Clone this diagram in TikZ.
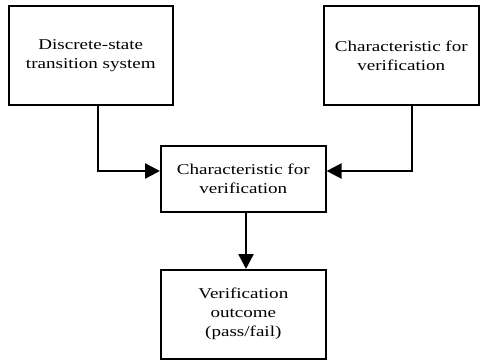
\documentclass[tikz,border=0pt]{standalone}
\usepackage{fontspec}
\setmainfont[FakeStretch=1.27]{Liberation Serif}
\usetikzlibrary{arrows.meta}
\begin{document}
\begin{tikzpicture}[x=1pt,y=-1pt,
  box/.style={draw, line width=1.6pt, align=center, inner sep=0pt,
    font=\fontsize{15}{19}\selectfont},
  flow/.style={line width=2.4pt, -{Triangle[length=15pt,width=15pt]}}]
\useasboundingbox (0,0) rectangle (484,360);
% boxes, placed by their corners
\node[box, minimum width=164pt, minimum height=99pt, anchor=north west] (sys) at (8,5) {Discrete-state\\transition system};
\node[box, minimum width=155pt, minimum height=99pt, anchor=north west] (spec) at (323,5) {Characteristic for\\verification};
\node[box, minimum width=165pt, minimum height=66pt, anchor=north west] (check) at (160,145) {Characteristic for\\verification};
\node[box, minimum width=165pt, minimum height=89pt, anchor=north west] (out) at (160,269) {Verification\\outcome\\(pass/fail)};
% connectors
\coordinate (lc) at (98,171);
\coordinate (rc) at (412,171);
\coordinate (dc) at (246,0);
\draw[flow] (sys.south west -| lc) -- (lc) -- (check.west |- lc);
\draw[flow] (spec.south west -| rc) -- (rc) -- (check.east |- rc);
\draw[flow] (check.south -| dc) -- (out.north -| dc);
\end{tikzpicture}
\end{document}
